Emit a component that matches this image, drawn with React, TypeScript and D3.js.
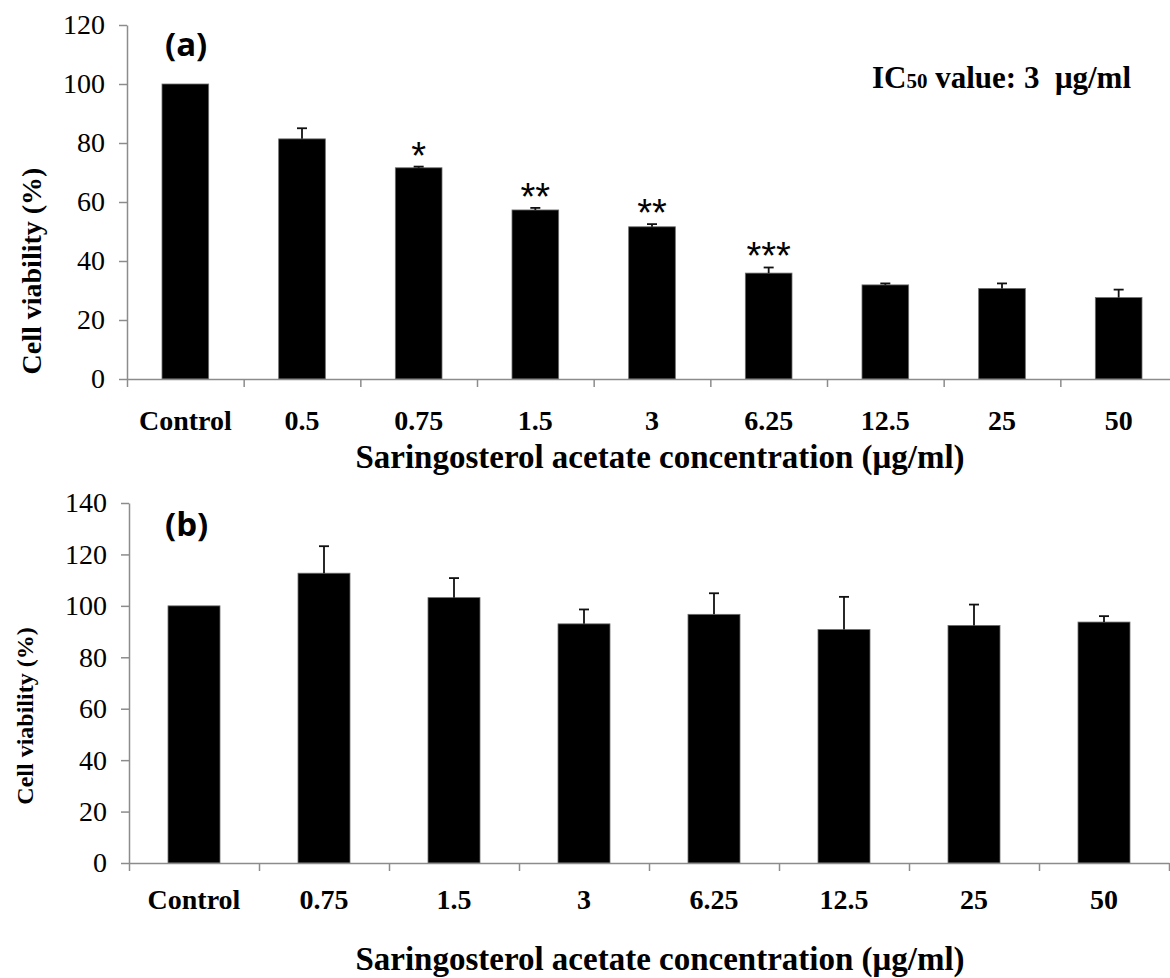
import React, { useEffect, useRef } from 'react';
import * as d3 from 'd3';

// panel (a)
const catsA = ['Control', '0.5', '0.75', '1.5', '3', '6.25', '12.5', '25', '50'];
const valsA = [100, 81.4, 71.6, 57.3, 51.6, 35.9, 31.9, 30.7, 27.6];
const errsA = [0, 3.6, 0.4, 0.7, 0.9, 1.9, 0.5, 1.7, 2.7];
const starsA = ['', '', '*', '**', '**', '***', '', '', ''];
const ticksA = [0, 20, 40, 60, 80, 100, 120];

// panel (b)
const catsB = ['Control', '0.75', '1.5', '3', '6.25', '12.5', '25', '50'];
const valsB = [100, 112.7, 103.2, 93.0, 96.7, 90.8, 92.4, 93.7];
const errsB = [0, 10.5, 7.6, 5.6, 8.2, 12.7, 8.1, 2.3];
const ticksB = [0, 20, 40, 60, 80, 100, 120, 140];

const xTitle = 'Saringosterol acetate concentration (\u03BCg/ml)';
const yTitle = 'Cell viability (%)';

const serif = '"Liberation Serif", "Times New Roman", serif';
const sans = '"Liberation Sans", Arial, sans-serif';
const axisGray = '#8c8c8c';

const drawPanel = (svg, opt) => {
  const { cats, vals, errs, stars, ticks, x0, x1, yTop, yBottom, letter, yLab, labelY, titleY } = opt;
  const g = svg.append('g');

  const xScale = d3.scaleBand()
    .domain(d3.range(cats.length))
    .range([x0, x1])
    .paddingInner(0.6)
    .paddingOuter(0.3);
  const step = xScale.step();
  const edge = d3.scaleLinear().domain([0, cats.length]).range([x0, x0 + step * cats.length]);

  const yScale = d3.scaleLinear()
    .domain([0, d3.max(ticks)])
    .range([yBottom, yTop]);

  // bars
  g.selectAll('rect.bar')
    .data(vals)
    .enter()
    .append('rect')
    .attr('class', 'bar')
    .attr('x', (d, i) => xScale(i))
    .attr('y', d => yScale(d))
    .attr('width', xScale.bandwidth())
    .attr('height', d => yScale(0) - yScale(d))
    .attr('fill', '#000')
    .attr('stroke', '#6e6e6e')
    .attr('stroke-width', 0.8);

  // error bars (upper only)
  const eb = g.selectAll('g.err')
    .data(vals.map((v, i) => ({ v, e: errs[i], i })).filter(d => d.e > 0))
    .enter()
    .append('g')
    .attr('class', 'err')
    .attr('stroke', '#111')
    .attr('stroke-width', 1.8);
  eb.append('line')
    .attr('x1', d => xScale(d.i) + xScale.bandwidth() / 2)
    .attr('x2', d => xScale(d.i) + xScale.bandwidth() / 2)
    .attr('y1', d => yScale(d.v))
    .attr('y2', d => yScale(d.v + d.e));
  eb.append('line')
    .attr('x1', d => xScale(d.i) + xScale.bandwidth() / 2 - 5)
    .attr('x2', d => xScale(d.i) + xScale.bandwidth() / 2 + 5)
    .attr('y1', d => yScale(d.v + d.e))
    .attr('y2', d => yScale(d.v + d.e));

  // significance stars
  if (stars) {
    g.selectAll('text.star')
      .data(stars)
      .enter()
      .append('text')
      .attr('class', 'star')
      .attr('x', (d, i) => xScale(i) + xScale.bandwidth() / 2)
      .attr('y', (d, i) => yScale(vals[i] + errs[i]) + 2)
      .attr('text-anchor', 'middle')
      .attr('font-family', sans)
      .attr('font-size', 38)
      .text(d => d);
  }

  // y axis
  const yAxis = d3.axisLeft(yScale).tickValues(ticks).tickSize(8).tickSizeOuter(0).tickPadding(14);
  const ya = g.append('g')
    .attr('transform', `translate(${x0}, 0)`)
    .call(yAxis);
  ya.select('.domain').attr('stroke', axisGray).attr('stroke-width', 1.5);
  ya.selectAll('.tick line').attr('stroke', axisGray).attr('stroke-width', 1.5);
  ya.selectAll('.tick text')
    .attr('font-family', serif)
    .attr('font-size', 28)
    .attr('fill', '#000');

  // x axis: ticks on the band edges
  const xAxis = d3.axisBottom(edge).tickValues(d3.range(cats.length + 1)).tickSize(8).tickSizeOuter(0).tickFormat(() => '');
  const xa = g.append('g')
    .attr('transform', `translate(0, ${yBottom})`)
    .call(xAxis);
  xa.select('.domain').attr('stroke', axisGray).attr('stroke-width', 1.5);
  xa.selectAll('.tick line').attr('stroke', axisGray).attr('stroke-width', 1.5);

  g.selectAll('text.cat')
    .data(cats)
    .enter()
    .append('text')
    .attr('class', 'cat')
    .attr('x', (d, i) => xScale(i) + xScale.bandwidth() / 2)
    .attr('y', labelY)
    .attr('text-anchor', 'middle')
    .attr('font-family', serif)
    .attr('font-weight', 'bold')
    .attr('font-size', 28)
    .text(d => d);

  g.append('text')
    .attr('x', 660)
    .attr('y', titleY)
    .attr('text-anchor', 'middle')
    .attr('font-family', serif)
    .attr('font-weight', 'bold')
    .attr('font-size', 33)
    .text(xTitle);

  g.append('text')
    .attr('transform', `translate(${yLab.x}, ${yLab.y}) rotate(-90)`)
    .attr('text-anchor', 'middle')
    .attr('font-family', serif)
    .attr('font-weight', 'bold')
    .attr('font-size', yLab.size)
    .text(yTitle);

  g.append('text')
    .attr('x', 165)
    .attr('y', letter.y)
    .attr('font-family', '"Open Sans", sans-serif')
    .attr('font-weight', 'bold')
    .attr('font-size', 33)
    .text(letter.text);
};

const App = () => {
  const ref = useRef(null);

  useEffect(() => {
    const svg = d3.select(ref.current);
    svg.selectAll('*').remove();

    drawPanel(svg, {
      cats: catsA, vals: valsA, errs: errsA, stars: starsA, ticks: ticksA,
      x0: 127, x1: 1177, yTop: 25, yBottom: 379,
      letter: { text: '(a)', y: 56 }, yLab: { x: 41, y: 271, size: 28 }, labelY: 430, titleY: 468,
    });

    drawPanel(svg, {
      cats: catsB, vals: valsB, errs: errsB, stars: null, ticks: ticksB,
      x0: 129, x1: 1169, yTop: 503, yBottom: 863,
      letter: { text: '(b)', y: 536 }, yLab: { x: 33, y: 716, size: 24 }, labelY: 909, titleY: 970,
    });

    const ic = svg.append('text')
      .attr('x', 872)
      .attr('y', 88)
      .attr('font-family', serif)
      .attr('font-weight', 'bold')
      .attr('font-size', 31);
    ic.append('tspan').text('IC');
    ic.append('tspan').attr('font-size', 21).text('50');
    ic.append('tspan').text(' value: 3 \u00A0\u03BCg/ml');
  });

  return (
    <svg
      ref={ref}
      width={1170}
      height={978}
      viewBox="0 0 1170 978"
      style={{ position: 'absolute', left: 0, top: 0, background: '#fff' }}
    />
  );
};

export default App;
